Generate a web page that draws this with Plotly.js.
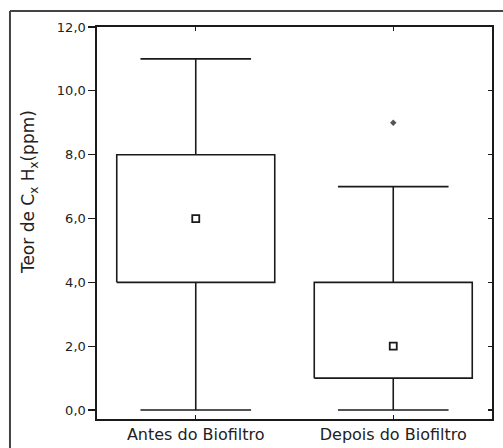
<!DOCTYPE html>
<html>
<head>
<meta charset="utf-8">
<script src="https://cdn.plot.ly/plotly-3.0.1.min.js"></script>
<style>html,body{margin:0;padding:0;background:#fff;}#chart{width:503px;height:448px;}</style>
</head>
<body>
<div id="chart"></div>
<script>
// Data
var categories = ["Antes do Biofiltro", "Depois do Biofiltro"];
var lowerWhisker = [0, 0];
var q1 = [4, 1];
var median = [6, 2];
var q3 = [8, 4];
var upperWhisker = [11, 7];
var outlierCategory = [1];
var outlierValue = [9];
var yTickValues = [0, 2, 4, 6, 8, 10, 12];
var yTickLabels = ["0,0", "2,0", "4,0", "6,0", "8,0", "10,0", "12,0"];

// Style constants
var BOX_HALF = 0.4;
var CAP_HALF = 0.28;
var LINE_COLOR = "#1a1a1a";
var FONT = "DejaVu Sans, sans-serif";

var bx = [], by = [], wx = [], wy = [];
for (var i = 0; i < categories.length; i++) {
  bx.push(i - BOX_HALF, i + BOX_HALF, i + BOX_HALF, i - BOX_HALF, i - BOX_HALF, null);
  by.push(q1[i], q1[i], q3[i], q3[i], q1[i], null);
  wx.push(i, i, null, i - CAP_HALF, i + CAP_HALF, null);
  wy.push(q3[i], upperWhisker[i], null, upperWhisker[i], upperWhisker[i], null);
  wx.push(i, i, null, i - CAP_HALF, i + CAP_HALF, null);
  wy.push(q1[i], lowerWhisker[i], null, lowerWhisker[i], lowerWhisker[i], null);
}
var idx = categories.map(function (c, i) { return i; });

var traces = [
  {x: wx, y: wy, type: "scatter", mode: "lines", line: {color: LINE_COLOR, width: 1.6}, hoverinfo: "skip", showlegend: false},
  {x: bx, y: by, type: "scatter", mode: "lines", line: {color: LINE_COLOR, width: 1.6}, hoverinfo: "skip", showlegend: false},
  {x: idx, y: median, type: "scatter", mode: "markers",
   marker: {symbol: "square", size: 7, color: "#ffffff", line: {color: LINE_COLOR, width: 1.8}}, showlegend: false},
  {x: outlierCategory, y: outlierValue, type: "scatter", mode: "markers",
   marker: {symbol: "diamond", size: 5, color: "#555555", line: {width: 0}}, showlegend: false},
  {x: [0], y: [0], yaxis: "y2", type: "scatter", mode: "markers", marker: {opacity: 0}, hoverinfo: "skip", showlegend: false}
];

var layout = {
  width: 503, height: 448,
  margin: {l: 97, r: 11, t: 27, b: 29, pad: 0},
  paper_bgcolor: "#ffffff", plot_bgcolor: "#ffffff",
  font: {family: FONT, size: 13, color: "#222222"},
  showlegend: false,
  xaxis: {
    range: [-0.5, 1.5], tickmode: "array", tickvals: idx, ticktext: categories,
    ticks: "inside", ticklen: 4, tickwidth: 1.2, tickcolor: LINE_COLOR,
    showline: true, linecolor: LINE_COLOR, linewidth: 1.6, mirror: "ticks",
    showgrid: false, zeroline: false, fixedrange: true,
    tickfont: {family: FONT, size: 16, color: "#222222"}
  },
  yaxis: {
    range: [-0.28, 12], tickmode: "array", tickvals: yTickValues, ticktext: yTickLabels,
    ticks: "outside", ticklen: 7, tickwidth: 1.2, tickcolor: LINE_COLOR,
    showline: true, linecolor: LINE_COLOR, linewidth: 1.6, mirror: true,
    showgrid: false, zeroline: false, fixedrange: true,
    tickfont: {family: FONT, size: 13, color: "#222222"}
  },
  yaxis2: {
    overlaying: "y", side: "right", range: [-0.28, 12], tickmode: "array", tickvals: yTickValues,
    ticks: "inside", ticklen: 4, tickwidth: 1.2, tickcolor: LINE_COLOR,
    showticklabels: false, showline: false, showgrid: false, zeroline: false, fixedrange: true
  },
  annotations: [{
    text: "Teor de C<sub>x</sub> H<sub>x</sub>(ppm)",
    xref: "paper", yref: "paper", x: -0.172, y: 0.579, xanchor: "center", yanchor: "middle",
    textangle: -90, showarrow: false, font: {family: FONT, size: 17, color: "#222222"}
  }],
  shapes: [
    {type: "line", xref: "paper", yref: "paper", x0: -0.2203, x1: 1.038, y0: 1.0408, y1: 1.0408, line: {color: "#444444", width: 2}},
    {type: "line", xref: "paper", yref: "paper", x0: -0.2203, x1: -0.2203, y0: 1.0408, y1: -0.08, line: {color: "#444444", width: 2}}
  ]
};

Plotly.newPlot("chart", traces, layout, {displayModeBar: false, staticPlot: true});
</script>
</body>
</html>
